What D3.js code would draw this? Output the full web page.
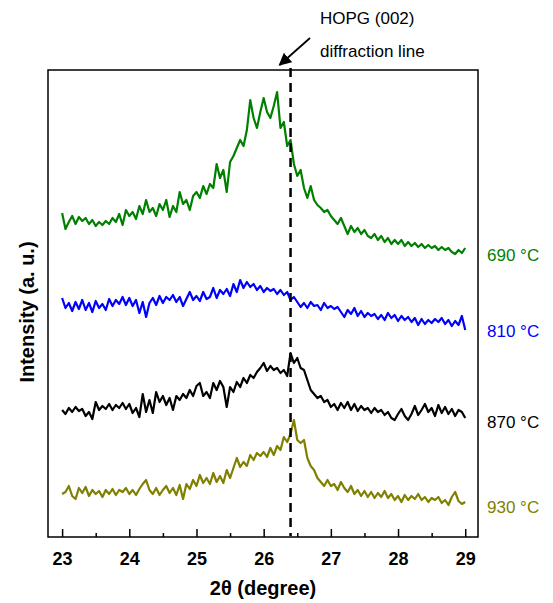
<!DOCTYPE html>
<html>
<head>
<meta charset="utf-8">
<script src="https://cdn.jsdelivr.net/npm/d3@7"></script>
<style>
	body { margin: 0; background: #fff; }
	svg text { font-family: "Liberation Sans", Arial, sans-serif; }
</style>
</head>
<body>
<div id="chart"></div>
<script>
// 2theta grid, 23 -> 29 by 0.05
var thetaStart = 23, thetaStep = 0.05;
var xTicks = [23, 24, 25, 26, 27, 28, 29];
var xMinorTicks = [23.5, 24.5, 25.5, 26.5, 27.5, 28.5];
var hopgLine = 26.4;

// intensities (a.u., curves already stacked)
var i690 = [
	387, 371, 378, 384, 376, 383, 379, 382, 376, 380,
	374, 378, 375, 379, 376, 382, 378, 386, 375, 390,
	384, 388, 381, 394, 386, 400, 388, 392, 384, 396,
	390, 400, 383, 394, 388, 408, 396, 400, 390, 404,
	408, 402, 414, 406, 416, 412, 436, 422, 430, 408,
	438, 444, 452, 460, 454, 470, 500, 482, 472, 488,
	502, 488, 482, 494, 508, 472, 478, 454, 460, 436,
	424, 430, 412, 402, 414, 400, 395, 392, 388, 390,
	384, 380, 376, 382, 374, 366, 374, 368, 372, 366,
	370, 364, 362, 366, 360, 364, 358, 362, 356, 360,
	356, 360, 354, 358, 354, 357, 353, 356, 352, 355,
	352, 354, 350, 353, 350, 352, 348, 346, 350, 347,
	352
];
var i810 = [
	302, 292, 297, 289, 298, 291, 300, 290, 297, 288,
	299, 292, 296, 290, 301, 294, 300, 296, 303, 295,
	302, 294, 300, 287, 298, 283, 297, 302, 295, 304,
	297, 303, 300, 305, 298, 303, 294, 301, 308, 300,
	304, 299, 308, 301, 303, 312, 302, 310, 306, 311,
	304, 316, 308, 320, 312, 318, 313, 316, 310, 314,
	308, 312, 309, 311, 306, 310, 305, 308, 300, 303,
	298, 293, 297, 292, 298, 294, 295, 290, 297, 292,
	294, 291, 293, 288, 283, 290, 286, 292, 284, 289,
	283, 287, 284, 286, 281, 285, 280, 287, 282, 285,
	279, 284, 280, 283, 278, 282, 275, 281, 276, 280,
	277, 281, 278, 282, 276, 280, 274, 279, 275, 284,
	270
];
var i870 = [
	190, 186, 192, 188, 193, 189, 191, 184, 188, 181,
	198, 190, 194, 191, 196, 190, 195, 192, 197, 191,
	196, 187, 192, 183, 206, 188, 200, 187, 208, 198,
	204, 195, 202, 190, 204, 200, 206, 202, 210, 204,
	214, 217, 204, 208, 202, 217, 210, 219, 213, 193,
	213, 208, 218, 213, 222, 217, 225, 222, 228, 232,
	237, 229, 234, 230, 232, 227, 230, 224, 247, 237,
	242, 232, 230, 220, 210, 206, 202, 204, 198, 200,
	193, 196, 190, 197, 192, 198, 190, 196, 189, 194,
	190, 192, 187, 192, 188, 190, 185, 188, 182, 180,
	186, 191, 184, 180, 186, 194, 185, 190, 196, 188,
	192, 184, 195, 187, 193, 186, 191, 184, 190, 188,
	182
];
var i930 = [
	106, 108, 114, 104, 101, 112, 107, 113, 104, 110,
	106, 109, 103, 110, 106, 111, 105, 110, 108, 112,
	106, 110, 105, 111, 116, 120, 110, 106, 112, 105,
	110, 114, 107, 112, 105, 115, 101, 116, 111, 120,
	114, 125, 117, 122, 116, 127, 118, 124, 117, 130,
	122, 132, 142, 133, 138, 134, 145, 140, 147, 144,
	148, 143, 152, 145, 154, 150, 163, 158, 166, 180,
	160, 157, 160, 142, 134, 130, 122, 118, 114, 120,
	114, 116, 110, 118, 112, 108, 114, 106, 110, 104,
	109, 103, 108, 102, 107, 103, 109, 102, 106, 100,
	104, 98, 105, 100, 104, 101, 106, 100, 103, 98,
	102, 100, 103, 97, 100, 95, 103, 108, 99, 96,
	98
];

var seriesNames = ['690 °C', '810 °C', '870 °C', '930 °C'];
var seriesValues = [i690, i810, i870, i930];
var seriesColors = ['#008000', '#0000ff', '#000000', '#808000'];
var labelLevels = [339, 263, 172, 87];

var width = 553, height = 603;
var margin = {top: 70, right: 75, bottom: 66, left: 48};

var svg = d3.select('#chart').append('svg')
	.attr('width', width)
	.attr('height', height);

var x = d3.scaleLinear()
	.domain([22.79, 29.19])
	.range([margin.left, width - margin.right]);

var y = d3.scaleLinear()
	.domain([63, 530])
	.range([height - margin.bottom, margin.top]);

var plotBottom = height - margin.bottom;

// curves
var line = d3.line()
	.x(function(d, i) { return x(thetaStart + i * thetaStep); })
	.y(function(d) { return y(d); });

seriesValues.forEach(function(vals, k) {
	svg.append('path')
		.datum(vals)
		.attr('d', line)
		.attr('fill', 'none')
		.attr('stroke', seriesColors[k])
		.attr('stroke-width', 2.2)
		.attr('stroke-linejoin', 'round');
});

// HOPG (002) line
svg.append('line')
	.attr('x1', x(hopgLine)).attr('x2', x(hopgLine))
	.attr('y1', margin.top - 2).attr('y2', plotBottom - 1)
	.attr('stroke', '#000')
	.attr('stroke-width', 2.5)
	.attr('stroke-dasharray', '9,6');

// frame
svg.append('rect')
	.attr('x', margin.left).attr('y', margin.top)
	.attr('width', width - margin.left - margin.right)
	.attr('height', plotBottom - margin.top)
	.attr('fill', 'none')
	.attr('stroke', '#000')
	.attr('stroke-width', 1.5);

// bottom axis, ticks pointing in
var xAxis = svg.append('g')
	.attr('transform', 'translate(0,' + plotBottom + ')')
	.call(d3.axisBottom(x).tickValues(xTicks).tickSize(-8).tickPadding(15).tickFormat(d3.format('d')));
xAxis.select('.domain').remove();
xAxis.selectAll('line').attr('stroke-width', 1.5);
xAxis.selectAll('text')
	.attr('font-size', 18)
	.attr('font-weight', 'bold')
	.attr('fill', '#000')
	.attr('font-family', '"Liberation Sans", Arial, sans-serif');

var xMinor = svg.append('g')
	.attr('transform', 'translate(0,' + plotBottom + ')')
	.call(d3.axisBottom(x).tickValues(xMinorTicks).tickSize(-4).tickFormat(''));
xMinor.select('.domain').remove();
xMinor.selectAll('line').attr('stroke-width', 1.5);

// axis titles
svg.append('text')
	.attr('x', (margin.left + width - margin.right) / 2)
	.attr('y', 595)
	.attr('text-anchor', 'middle')
	.attr('font-size', 20)
	.attr('font-weight', 'bold')
	.text('2θ (degree)');

svg.append('text')
	.attr('transform', 'translate(34,312) rotate(-90)')
	.attr('text-anchor', 'middle')
	.attr('font-size', 20)
	.attr('font-weight', 'bold')
	.text('Intensity (a. u.)');

// temperature labels
seriesNames.forEach(function(name, k) {
	svg.append('text')
		.attr('x', width - margin.right + 9)
		.attr('y', y(labelLevels[k]))
		.attr('font-size', 17)
		.attr('fill', seriesColors[k])
		.text(name);
});

// annotation
svg.append('defs').append('marker')
	.attr('id', 'arrow')
	.attr('viewBox', '0 0 10 10')
	.attr('refX', 9).attr('refY', 5)
	.attr('markerWidth', 7).attr('markerHeight', 7)
	.attr('orient', 'auto')
	.append('path')
	.attr('d', 'M0,0 L10,5 L0,10 z')
	.attr('fill', '#000');

svg.append('line')
	.attr('x1', 310).attr('y1', 38)
	.attr('x2', x(hopgLine) - 11).attr('y2', 65)
	.attr('stroke', '#000')
	.attr('stroke-width', 1.8)
	.attr('marker-end', 'url(#arrow)');

svg.append('text')
	.attr('x', 320).attr('y', 24)
	.attr('font-size', 17)
	.text('HOPG (002)');
svg.append('text')
	.attr('x', 320).attr('y', 57)
	.attr('font-size', 17)
	.text('diffraction line');
</script>
</body>
</html>
